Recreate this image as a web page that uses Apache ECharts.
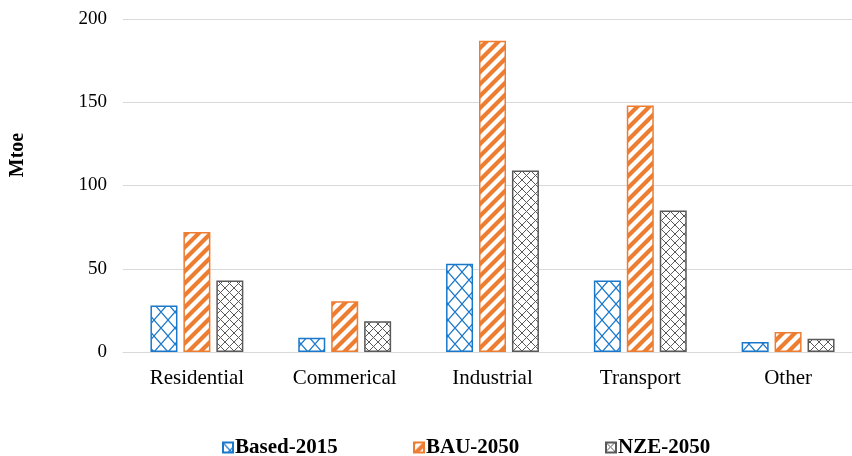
<!DOCTYPE html>
<html>
<head>
<meta charset="utf-8">
<script src="https://cdn.jsdelivr.net/npm/echarts@6/dist/echarts.min.js"></script>
<style>
  html, body { margin: 0; padding: 0; background: #fff; }
  #chart { width: 852px; height: 456px; }
</style>
</head>
<body>
<div id="chart"></div>
<script>
// final energy demand by sector, Mtoe
const categories = ['Residential', 'Commerical', 'Industrial', 'Transport', 'Other'];
const based2015 = [28, 8.5, 53, 43, 6];
const bau2050 = [72, 30.5, 187, 148, 12];
const nze2050 = [43, 18.5, 109, 85, 8];
const seriesNames = ['Based-2015', 'BAU-2050', 'NZE-2050'];
const yTicks = { min: 0, max: 200, interval: 50 };

const FONT = '"Liberation Serif", "Times New Roman", serif';

// hatch tiles drawn on small canvases, used as repeating fills
function lattice(w, h, color, lw) {
  const c = document.createElement('canvas');
  c.width = w; c.height = h;
  const g = c.getContext('2d');
  g.fillStyle = '#fff';
  g.fillRect(0, 0, w, h);
  g.strokeStyle = color;
  g.lineWidth = lw;
  g.beginPath();
  g.moveTo(0, 0); g.lineTo(w, h);
  g.moveTo(w, 0); g.lineTo(0, h);
  g.stroke();
  return { image: c, repeat: 'repeat' };
}

function stripes(s, color, lw) {
  const c = document.createElement('canvas');
  c.width = s; c.height = s;
  const g = c.getContext('2d');
  g.fillStyle = '#fff';
  g.fillRect(0, 0, s, s);
  g.strokeStyle = color;
  g.lineWidth = lw;
  g.beginPath();
  g.moveTo(0, s); g.lineTo(s, 0);
  g.moveTo(-s / 2, s / 2); g.lineTo(s / 2, -s / 2);
  g.moveTo(s / 2, s * 1.5); g.lineTo(s * 1.5, s / 2);
  g.stroke();
  return { image: c, repeat: 'repeat' };
}

const BLUE = '#1a78cc';
const ORANGE = '#ed7d31';
const GREY = '#595959';

const fills = [
  lattice(14, 16, BLUE, 1.2),
  stripes(12, ORANGE, 4.2),
  lattice(9, 9, GREY, 1),
];
const borders = [BLUE, ORANGE, GREY];
const values = [based2015, bau2050, nze2050];

const chart = echarts.init(document.getElementById('chart'));

const legendLefts = [222, 413, 605];

chart.setOption({
  animation: false,
  backgroundColor: '#fff',
  // plot runs past the right edge, as in the cropped original
  grid: { left: 123, width: 739, top: 19, height: 333, outerBoundsMode: 'none' },
  legend: seriesNames.map((name, i) => ({
    data: [name],
    left: legendLefts[i],
    top: 437,
    padding: 0,
    icon: 'rect',
    itemWidth: 10,
    itemHeight: 10,
    textStyle: { fontFamily: FONT, fontSize: 21, fontWeight: 'bold', color: '#000', padding: [0, 0, 0, -3] },
  })),
  graphic: [{
    type: 'text',
    x: 18,
    y: 155,
    rotation: Math.PI / 2,
    style: {
      text: 'Mtoe',
      fontFamily: FONT,
      fontSize: 20,
      fontWeight: 'bold',
      fill: '#000',
      align: 'center',
      verticalAlign: 'middle',
    },
  }],
  xAxis: {
    type: 'category',
    data: categories,
    axisLine: { lineStyle: { color: '#d9d9d9', width: 1 } },
    axisTick: { show: false },
    axisLabel: { color: '#000', fontFamily: FONT, fontSize: 21, margin: 16 },
  },
  yAxis: {
    type: 'value',
    min: yTicks.min,
    max: yTicks.max,
    interval: yTicks.interval,
    axisLine: { show: false },
    axisTick: { show: false },
    axisLabel: { color: '#000', fontFamily: FONT, fontSize: 19, margin: 16 },
    splitLine: { lineStyle: { color: '#d9d9d9', width: 1 } },
  },
  series: seriesNames.map((name, i) => ({
    name,
    type: 'bar',
    data: values[i],
    barWidth: 27,
    barGap: '22%',
    itemStyle: { color: fills[i], borderColor: borders[i], borderWidth: 1.5 },
  })),
});
</script>
</body>
</html>
